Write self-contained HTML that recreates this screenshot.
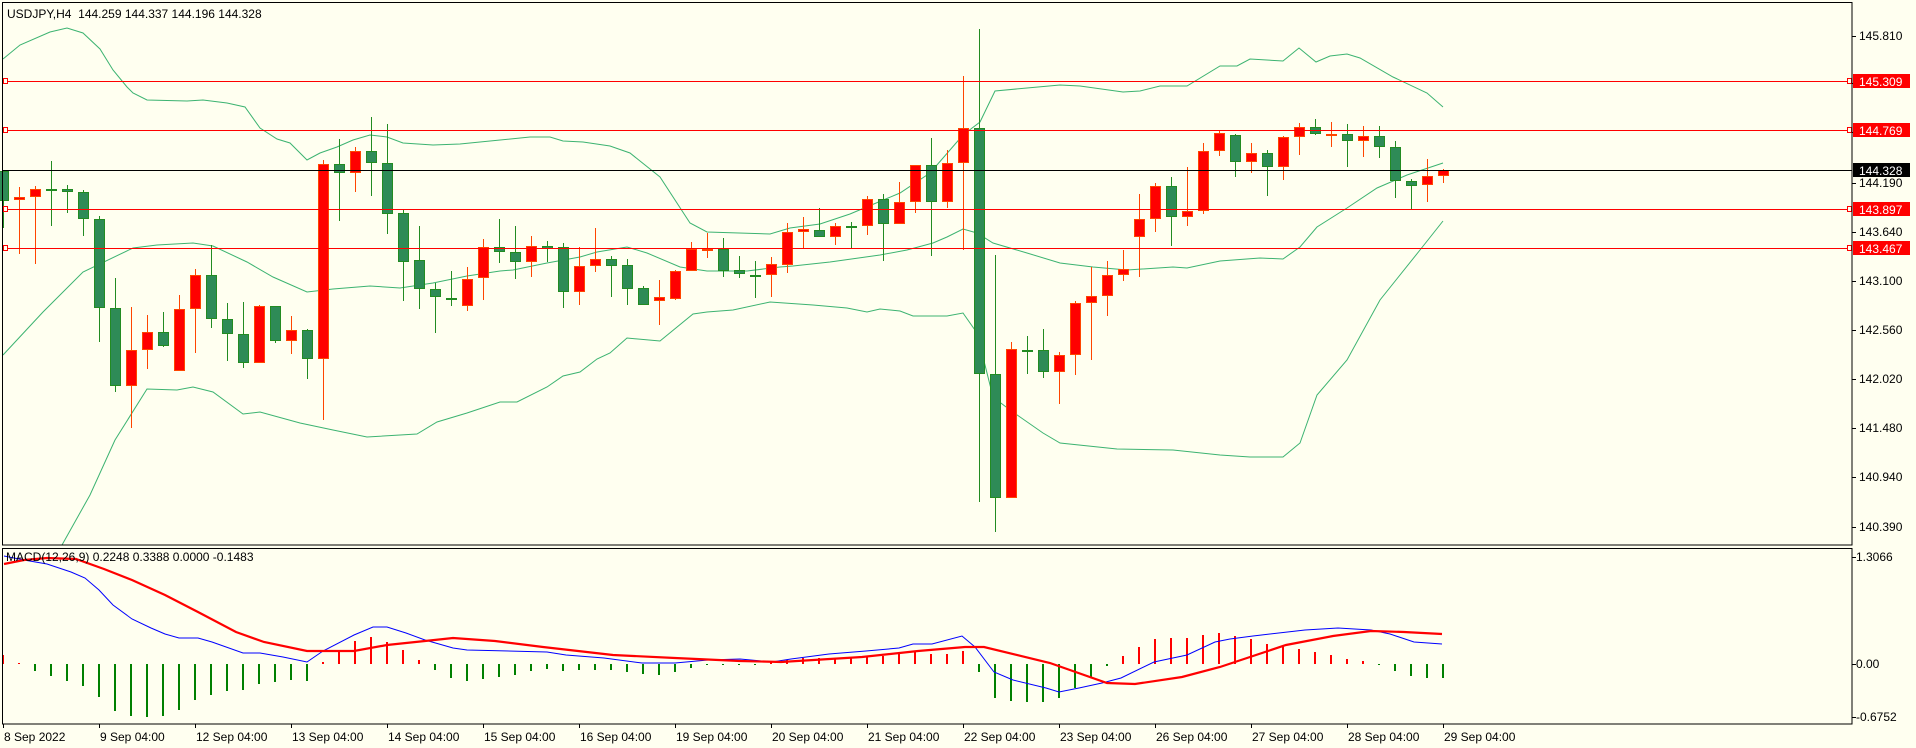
<!DOCTYPE html>
<html><head><meta charset="utf-8"><style>
html,body{margin:0;padding:0;background:#fffff0;width:1916px;height:748px;overflow:hidden}
svg{display:block}
text{font-family:"Liberation Sans",sans-serif;font-size:12px;fill:#000}
</style></head><body>
<svg id="s" width="1916" height="748" xmlns="http://www.w3.org/2000/svg" shape-rendering="crispEdges">
<rect x="0" y="0" width="1916" height="748" fill="#fffff0"/>
<g id="bands" fill="none" stroke="#3cb371" stroke-width="1" shape-rendering="auto"></g>
<g id="candles"></g>
<g id="hl"></g>
<g id="macd"></g>
<rect x="2.5" y="2.5" width="1849.5" height="542.5" fill="none" stroke="#000"/>
<rect x="2.5" y="548.5" width="1849.5" height="175.5" fill="none" stroke="#000"/>
<text x="7" y="18">USDJPY,H4&#160;&#160;144.259 144.337 144.196 144.328</text>
<text x="6" y="561">MACD(12,26,9) 0.2248 0.3388 0.0000 -0.1483</text>
<g id="axis"></g>
</svg>
<script>
var NS="http://www.w3.org/2000/svg";
function el(p,t,a,txt){var e=document.createElementNS(NS,t);for(var k in a)e.setAttribute(k,a[k]);if(txt!==undefined)e.textContent=txt;document.getElementById(p).appendChild(e);return e;}
function X(i){return 3+16*i;}
var up=[[3,59],[20,45],[50,32],[67,28],[83,33],[100,49],[113,70],[127,87],[133,93],[147,100],[187,101],[203,100],[227,103],[245,107],[260,128],[277,139],[290,143],[307,160],[320,153],[337,147],[353,140],[370,135],[387,137],[403,143],[433,145],[460,144],[480,142],[530,137],[550,137],[563,141],[583,142],[610,146],[630,153],[660,177],[690,223],[707,232],[770,234],[790,228],[820,224],[850,214],[900,193],[930,173],[963,135],[980,122],[995,91],[1027,88],[1060,85],[1080,86],[1123,92],[1140,91],[1160,86],[1187,86],[1220,66],[1237,66],[1250,59],[1283,61],[1299,48],[1316,62],[1330,56],[1347,54],[1360,58],[1393,77],[1427,93],[1443,107]];
var mid=[[3,355],[43,312],[83,272],[133,248],[157,245],[193,243],[213,246],[247,262],[273,277],[307,292],[333,289],[370,286],[400,288],[433,283],[467,276],[500,271],[513,270],[547,263],[580,257],[597,252],[627,247],[647,253],[680,267],[707,271],[747,271],[780,267],[793,266],[830,262],[880,255],[907,250],[933,243],[947,237],[963,229],[977,233],[993,243],[1027,253],[1060,263],[1093,267],[1127,270],[1173,267],[1187,268],[1220,261],[1260,258],[1283,259],[1300,247],[1317,227],[1347,208],[1377,188],[1407,175],[1443,163]];
var lo=[[62,545],[90,495],[115,440],[147,389],[177,390],[193,387],[213,392],[243,414],[260,412],[300,423],[333,430],[367,437],[417,434],[437,422],[467,413],[500,402],[517,402],[547,387],[563,376],[580,372],[597,359],[610,353],[627,338],[660,341],[693,314],[707,312],[733,310],[770,302],[813,305],[847,308],[867,312],[880,309],[900,311],[913,316],[947,316],[963,313],[977,333],[993,397],[1010,410],[1043,433],[1060,443],[1117,449],[1173,450],[1220,455],[1250,457],[1283,457],[1300,443],[1317,395],[1347,360],[1380,300],[1420,250],[1443,221]];
[up,mid,lo].forEach(function(a){el("bands","polyline",{points:a.map(function(p){return p.join(",")}).join(" ")});});
var C=[
["g",170.7,200.7,170,228],["r",197.3,200.3,187,253.7],["r",189.3,197.3,186,263.7],["g",189.3,189.3,161,226],["g",189,191.7,185,212.7],["g",192,219.3,190,236],["g",219.3,307.7,216,341.7],["g",308.3,385.7,278,391.7],["r",350,385.7,307,427.7],["r",332,350.3,315,368.7],
["g",332,345.7,312,346.7],["r",309.3,371.3,295,371.3],["r",275.3,309.3,269,352.7],["g",275.3,319.3,245.3,327.7],["g",319.3,334.3,303,360.7],["g",334.3,362.7,302,367.7],["r",306.3,363.3,305,363.3],["g",306.3,341.3,306.3,343.3],["r",330.3,341.3,316,353.7],["g",330.3,359.3,329.3,378.7],
["r",164.3,359.3,160,419.7],["g",164.3,173.3,139,220.7],["r",151.3,173.3,147,191.7],["g",151.3,163.3,117,195.7],["g",163.3,213.7,124,233.7],["g",213.3,261.7,210,300.7],["g",260.3,289.3,226,308.7],["g",289.3,297.3,283.3,332.7],["g",298,298,271,305.7],["r",279.3,306.3,267,310.7],
["r",247.3,278.3,239,300],["g",247,252.3,219,262.7],["g",252.3,262.3,226,278.7],["r",246.3,262.3,236,276.7],["g",246.3,249.3,241,262.3],["g",247.3,291.7,243,307.7],["r",266.3,291.7,247.3,304.7],["r",259.3,266.3,228,271.7],["g",259.3,265.7,256,296.7],["g",265.3,288.7,259,304.7],
["g",288.3,305.3,286,305.3],["r",297.3,301.3,280,324.7],["r",271.3,298.7,270,300.3],["r",249,271.3,242,271.3],["r",249,249,233,257.7],["g",249,270.7,238,276.7],["g",270.3,274.3,256,277.7],["g",274.7,274.7,261,297.7],["r",264.3,275.3,256.7,296.7],["r",232.3,264.7,223,272.7],
["r",229.3,232.3,217,247.7],["g",230.3,237.3,208,237.3],["r",226.3,237.3,223,244.7],["g",226.3,226.3,222,248],["r",199.3,226.3,196,234.7],["g",199.3,224.3,194,260.7],["r",202.3,224.3,181.7,224.3],["r",165.3,202.3,165.3,212.7],["g",165.3,202.3,138,255.7],["r",163.3,202.3,150,207.7],
["r",128.3,163.3,76,250],["g",128.3,374.3,29,501.7],["g",374.3,498.3,255,531.7],["r",349.3,498.3,342,498.3],["g",349.7,349.7,336,373.7],["g",350.3,372.3,329,377.7],["r",355.3,372.3,352,403.7],["r",303.3,355.3,301,374.7],["r",296.3,303.3,266.7,359.7],["r",275.3,296.3,261,315.7],
["r",269.3,275.3,250,280.7],["r",219.3,237.3,194,276.7],["r",186.3,219.3,183.3,231.7],["g",186.3,216.7,177,245.7],["r",211.3,216.7,167,225.7],["r",151.3,211.3,143.3,213.7],["r",133.3,151.3,131.3,155.7],["g",135.3,161.7,134.3,176.7],["r",153.3,161.7,143,172.7],["g",153.3,166.7,150,195.7],
["r",137.3,166.7,136,179.7],["r",127.3,137.3,123,154.7],["g",127.3,134.3,119,135.3],["r",134.3,136.3,122,146.7],["g",134.3,140.7,124,166.7],["r",136.3,140.7,126,156.7],["g",136.3,147.3,126,157.7],["g",147.3,181.3,141,197.7],["g",181.3,185.7,179.3,209.3],["r",176.3,185.3,159,201.7],
["r",170.3,176.3,169.3,182.7]];
C.forEach(function(c,i){
 var x=X(i),fill=c[0]=="g"?"#2e8b57":"#ff0000",st=c[0]=="g"?"#228b22":"#ff4500";
 var wt=Math.round(c[3]),wb=Math.round(c[4]),bt=Math.round(c[1]),bb=Math.round(c[2]);
 el("candles","rect",{x:x,y:wt,width:1,height:Math.max(1,wb-wt),fill:st});
 if(bb-bt<2){el("candles","rect",{x:x-5,y:bt,width:11,height:2,fill:st});}
 else el("candles","rect",{x:x-4.5,y:bt+0.5,width:10,height:bb-bt-1,fill:fill,stroke:st});
});
[[81,"145.309"],[130,"144.769"],[209,"143.897"],[248,"143.467"]].forEach(function(l){
 el("hl","rect",{x:3,y:l[0],width:1849,height:1,fill:"#ff0000"});
 el("hl","rect",{x:3.5,y:l[0]-2.5,width:4,height:5,fill:"#fffff0",stroke:"#ff0000"});
 el("hl","rect",{x:1847.5,y:l[0]-2.5,width:4,height:5,fill:"#fffff0",stroke:"#ff0000"});
});
el("hl","rect",{x:3,y:170,width:1849,height:1,fill:"#000"});
[[36,"145.810"],[183,"144.190"],[232,"143.640"],[281,"143.100"],[330,"142.560"],[379,"142.020"],[428,"141.480"],[477,"140.940"],[527,"140.390"],[83,"145.270"],[132,"144.730"]].forEach(function(t){
 el("axis","rect",{x:1852,y:t[0],width:4,height:1,fill:"#000"});
 el("axis","text",{x:1859,y:t[0]+4},t[1]);
});
[[81,"145.309","#ff0000","#fff"],[130,"144.769","#ff0000","#fff"],[170,"144.328","#000","#fff"],[209,"143.897","#ff0000","#fff"],[248,"143.467","#ff0000","#fff"]].forEach(function(t){
 el("axis","rect",{x:1853,y:t[0]-7,width:57,height:14,fill:t[2]});
 el("axis","text",{x:1859,y:t[0]+5,style:"fill:"+t[3]},t[1]);
});
[[557,"1.3066"],[664,"0.00"],[717,"-0.6752"]].forEach(function(t){
 el("axis","rect",{x:1852,y:t[0],width:4,height:1,fill:"#000"});
 el("axis","text",{x:1856,y:t[0]+4},t[1]);
});
var tl=["8 Sep 2022","9 Sep 04:00","12 Sep 04:00","13 Sep 04:00","14 Sep 04:00","15 Sep 04:00","16 Sep 04:00","19 Sep 04:00","20 Sep 04:00","21 Sep 04:00","22 Sep 04:00","23 Sep 04:00","26 Sep 04:00","27 Sep 04:00","28 Sep 04:00","29 Sep 04:00"];
tl.forEach(function(t,k){var x=3+96*k;el("axis","rect",{x:x,y:724,width:1,height:4,fill:"#000"});el("axis","text",{x:x+1,y:741},t);});
var H=[9,0.7,-7,-12,-17,-21.7,-32.7,-46.7,-51.7,-52.7,-51.7,-45.7,-36,-31,-26.7,-26,-19.7,-17.7,-16,-17,2,13,23,27,22.3,14,4,-6,-13.7,-17,-14.7,-12.7,-11,-7,-5,-7,-6,-6,-6,-8,-10,-11,-8,-4,-1,-0.5,-0.5,-0.5,2.3,4,5.7,5.7,6.3,6.3,8.3,8.3,9.7,12.3,9.7,9.7,13,-7.7,-33.7,-36.7,-37.7,-37.7,-33.7,-23.7,-13.7,-1.7,8,17.3,25,26.3,25.7,29,31,28.3,25,20.3,18.3,15,12,9.3,5,3,-1,-6.7,-11.7,-13.7,-13.7];
H.forEach(function(h,i){var x=X(i)-1,a=Math.max(1,Math.round(Math.abs(h)));
 if(h>=0)el("macd","rect",{x:x,y:664-a,width:2,height:a,fill:"#ff0000"});
 else el("macd","rect",{x:x,y:664,width:2,height:a,fill:"#008000"});});
var blue=[[4,556],[24,560],[47,564],[71,572],[85,578],[99,590],[113,605],[132,619],[151,628],[165,634],[179,638],[198,638],[212,642],[243,653],[260,653],[283,657],[307,662],[323,651],[354,635],[373,627],[387,627],[406,633],[425,640],[453,648],[467,650],[547,652],[566,655],[604,658],[642,663],[675,663],[708,660],[740,659],[772,662],[791,659],[829,654],[866,651],[899,648],[913,644],[932,644],[962,636],[975,647],[994,672],[1013,680],[1046,688],[1059,692],[1079,688],[1102,683],[1121,678],[1154,662],[1187,655],[1215,642],[1230,639],[1253,636],[1305,630],[1338,628],[1371,630],[1390,634],[1414,642],[1442,644]];
var red=[[4,564],[24,560],[47,558],[76,559],[104,569],[132,580],[165,595],[198,612],[236,632],[264,642],[307,651],[354,651],[387,645],[425,641],[453,638],[495,641],[543,647],[613,655],[675,658],[740,661],[781,662],[862,657],[918,651],[965,647],[984,647],[1050,663],[1107,683],[1135,684],[1182,677],[1220,667],[1286,645],[1333,636],[1371,631],[1404,632],[1442,634]];
el("macd","polyline",{points:blue.map(function(p){return p.join(",")}).join(" "),fill:"none",stroke:"#0000ff","stroke-width":1,"shape-rendering":"auto"});
el("macd","polyline",{points:red.map(function(p){return p.join(",")}).join(" "),fill:"none",stroke:"#ff0000","stroke-width":2.2,"shape-rendering":"auto"});
</script>
</body></html>
